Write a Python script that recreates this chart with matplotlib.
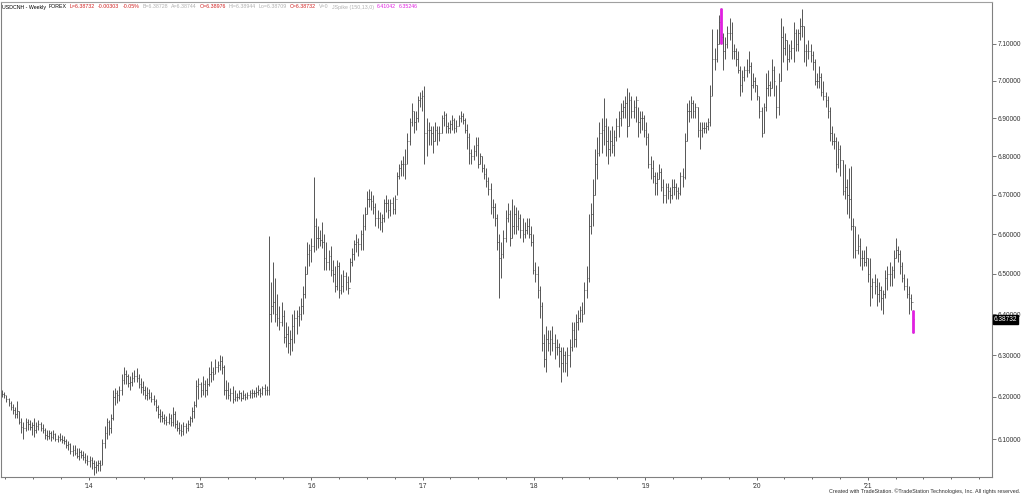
import datetime as dt
import matplotlib
matplotlib.use("Agg")
import matplotlib.pyplot as plt
import matplotlib.dates as mdates
import matplotlib.transforms as mtrans
from matplotlib.ticker import FixedLocator, NullLocator, FuncFormatter

plt.rcParams['font.family'] = ['Liberation Sans', 'DejaVu Sans']

# USDCNH weekly bars, first bar = week ending 2013-03-22, one line per month
first_week = dt.date(2013, 3, 22)

highs = [
    # 2013
    6.215, 6.212,
    6.205, 6.198, 6.190, 6.182,
    6.175, 6.190, 6.165, 6.150, 6.140,
    6.150, 6.148, 6.145, 6.140,
    6.150, 6.140, 6.145, 6.140,
    6.135, 6.125, 6.120, 6.122, 6.118,
    6.120, 6.115, 6.110, 6.115,
    6.110, 6.108, 6.100, 6.095,
    6.090, 6.085, 6.085, 6.080, 6.078,
    6.075, 6.072, 6.068, 6.062,
    # 2014
    6.060, 6.058, 6.050, 6.048, 6.052,
    6.050, 6.100, 6.130, 6.150,
    6.145, 6.160, 6.215, 6.220,
    6.215, 6.225, 6.255, 6.272,
    6.265, 6.255, 6.250, 6.258, 6.265,
    6.268, 6.255, 6.245, 6.238,
    6.225, 6.222, 6.218, 6.212,
    6.205, 6.195, 6.180, 6.170, 6.165,
    6.160, 6.155, 6.162, 6.158,
    6.175, 6.165, 6.145, 6.140, 6.135,
    6.140, 6.138, 6.145, 6.155,
    6.175, 6.190, 6.240, 6.245,
    # 2015
    6.235, 6.250, 6.240, 6.245, 6.270,
    6.285, 6.272, 6.290, 6.285,
    6.300, 6.298, 6.275, 6.240,
    6.235, 6.220, 6.225, 6.215,
    6.210, 6.215, 6.212, 6.215, 6.210,
    6.212, 6.215, 6.218, 6.215,
    6.222, 6.228, 6.220, 6.225, 6.230,
    6.225, 6.595, 6.480, 6.530,
    6.490, 6.450, 6.420, 6.430,
    6.410, 6.380, 6.370, 6.360, 6.400,
    6.410, 6.410, 6.420, 6.440,
    6.470, 6.520, 6.580, 6.575,
    # 2016
    6.590, 6.745, 6.640, 6.620, 6.610,
    6.630, 6.600, 6.580, 6.560,
    6.570, 6.535, 6.520, 6.535,
    6.530, 6.500, 6.510, 6.505, 6.495,
    6.540, 6.565, 6.585, 6.600,
    6.590, 6.610, 6.650, 6.670,
    6.710, 6.715, 6.710, 6.700, 6.680,
    6.660, 6.655, 6.650, 6.690,
    6.700, 6.690, 6.690, 6.695, 6.700,
    6.760, 6.780, 6.790, 6.800,
    6.820, 6.860, 6.900, 6.940,
    6.920, 6.920, 6.960, 6.970, 6.975,
    # 2017
    6.985, 6.900, 6.890, 6.880,
    6.880, 6.890, 6.880, 6.880,
    6.910, 6.920, 6.915, 6.890, 6.895,
    6.910, 6.900, 6.895, 6.910,
    6.920, 6.915, 6.900, 6.885,
    6.860, 6.820, 6.830, 6.850, 6.850,
    6.810, 6.800, 6.780, 6.770,
    6.745, 6.730, 6.690, 6.680,
    6.650, 6.600, 6.580, 6.610, 6.660,
    6.680, 6.660, 6.690, 6.675,
    6.670, 6.660, 6.650, 6.640,
    6.630, 6.640, 6.640, 6.620, 6.600,
    # 2018
    6.530, 6.520, 6.470, 6.430,
    6.350, 6.370, 6.360, 6.360,
    6.370, 6.350, 6.340, 6.330, 6.320,
    6.320, 6.310, 6.320, 6.340,
    6.380, 6.380, 6.400, 6.410,
    6.420, 6.430, 6.480, 6.520, 6.650,
    6.680, 6.740, 6.820, 6.850,
    6.890, 6.900, 6.955, 6.900, 6.880,
    6.870, 6.880, 6.870, 6.900,
    6.920, 6.940, 6.950, 6.960,
    6.980, 6.970, 6.960, 6.950, 6.960,
    6.930, 6.920, 6.920, 6.910,
    # 2019
    6.890, 6.860, 6.800, 6.790,
    6.760, 6.760, 6.780, 6.770,
    6.740, 6.730, 6.730, 6.720, 6.740,
    6.740, 6.730, 6.720, 6.760,
    6.770, 6.860, 6.940, 6.950, 6.960,
    6.950, 6.940, 6.930, 6.890,
    6.890, 6.890, 6.890, 6.900,
    6.990, 7.140, 7.090, 7.140, 7.180,
    7.198, 7.130, 7.120, 7.150,
    7.170, 7.160, 7.100, 7.090,
    7.080, 7.040, 7.030, 7.040, 7.060,
    7.080, 7.050, 7.020, 7.010,
    # 2020
    6.990, 6.960, 6.930, 6.940, 7.020,
    7.030, 7.000, 7.060, 7.040,
    6.990, 7.020, 7.170, 7.150,
    7.130, 7.110, 7.100, 7.110,
    7.160, 7.140, 7.140, 7.170, 7.196,
    7.150, 7.100, 7.110, 7.100,
    7.080, 7.060, 7.020, 7.040, 7.020,
    7.000, 6.970, 6.960, 6.930,
    6.880, 6.860, 6.850, 6.840,
    6.830, 6.790, 6.780, 6.740, 6.770,
    6.775, 6.640, 6.620, 6.600,
    6.590, 6.560, 6.560, 6.570,
    # 2021
    6.540, 6.540, 6.490, 6.500, 6.490,
    6.480, 6.470, 6.460, 6.510,
    6.520, 6.530, 6.520, 6.560,
    6.590, 6.570, 6.560, 6.530, 6.500,
    6.490, 6.470, 6.450, 6.41042,
]

lows = [
    # 2013
    6.200, 6.196,
    6.188, 6.178, 6.168, 6.160,
    6.150, 6.150, 6.135, 6.115, 6.100,
    6.118, 6.122, 6.120, 6.110,
    6.105, 6.115, 6.120, 6.118,
    6.115, 6.100, 6.098, 6.100, 6.095,
    6.100, 6.096, 6.092, 6.095,
    6.090, 6.088, 6.080, 6.075,
    6.065, 6.060, 6.062, 6.055, 6.052,
    6.055, 6.050, 6.045, 6.040,
    # 2014
    6.035, 6.030, 6.017, 6.022, 6.025,
    6.025, 6.040, 6.080, 6.100,
    6.110, 6.115, 6.145, 6.180,
    6.185, 6.190, 6.205, 6.230,
    6.230, 6.222, 6.215, 6.225, 6.235,
    6.235, 6.220, 6.210, 6.205,
    6.195, 6.192, 6.195, 6.188,
    6.180, 6.165, 6.150, 6.140, 6.140,
    6.135, 6.132, 6.135, 6.130,
    6.130, 6.125, 6.118, 6.112, 6.108,
    6.110, 6.115, 6.118, 6.130,
    6.140, 6.150, 6.175, 6.195,
    # 2015
    6.200, 6.205, 6.200, 6.205, 6.225,
    6.235, 6.240, 6.255, 6.260,
    6.265, 6.255, 6.205, 6.195,
    6.195, 6.190, 6.185, 6.190,
    6.190, 6.195, 6.190, 6.195, 6.192,
    6.195, 6.198, 6.196, 6.200,
    6.200, 6.205, 6.200, 6.205, 6.205,
    6.205, 6.205, 6.380, 6.400,
    6.380, 6.370, 6.360, 6.370,
    6.330, 6.320, 6.305, 6.300, 6.310,
    6.330, 6.350, 6.370, 6.385,
    6.400, 6.440, 6.500, 6.520,
    # 2016
    6.530, 6.555, 6.560, 6.565, 6.570,
    6.565, 6.510, 6.510, 6.510,
    6.495, 6.480, 6.455, 6.460,
    6.440, 6.450, 6.455, 6.460, 6.450,
    6.480, 6.520, 6.535, 6.555,
    6.545, 6.560, 6.560, 6.610,
    6.650, 6.670, 6.660, 6.650, 6.620,
    6.615, 6.610, 6.605, 6.630,
    6.655, 6.640, 6.645, 6.650, 6.650,
    6.700, 6.740, 6.750, 6.750,
    6.740, 6.780, 6.830, 6.880,
    6.860, 6.870, 6.890, 6.930, 6.920,
    # 2017
    6.780, 6.800, 6.830, 6.830,
    6.810, 6.840, 6.830, 6.840,
    6.860, 6.880, 6.860, 6.860, 6.860,
    6.870, 6.860, 6.865, 6.880,
    6.890, 6.885, 6.860, 6.820,
    6.780, 6.780, 6.790, 6.800, 6.770,
    6.780, 6.760, 6.740, 6.720,
    6.700, 6.650, 6.640, 6.620,
    6.560, 6.440, 6.490, 6.540, 6.580,
    6.630, 6.570, 6.590, 6.600,
    6.600, 6.610, 6.590, 6.580,
    6.590, 6.600, 6.590, 6.570, 6.500,
    # 2018
    6.480, 6.440, 6.390, 6.310,
    6.270, 6.260, 6.310, 6.300,
    6.310, 6.290, 6.300, 6.270, 6.236,
    6.260, 6.260, 6.250, 6.270,
    6.310, 6.320, 6.320, 6.360,
    6.380, 6.380, 6.400, 6.440, 6.480,
    6.600, 6.620, 6.700, 6.740,
    6.800, 6.810, 6.830, 6.800, 6.780,
    6.800, 6.810, 6.800, 6.840,
    6.850, 6.880, 6.900, 6.900,
    6.850, 6.880, 6.900, 6.900, 6.890,
    6.850, 6.860, 6.870, 6.850,
    # 2019
    6.830, 6.770, 6.740, 6.730,
    6.700, 6.700, 6.740, 6.710,
    6.680, 6.680, 6.690, 6.680, 6.690,
    6.700, 6.690, 6.690, 6.700,
    6.720, 6.740, 6.840, 6.890, 6.900,
    6.900, 6.900, 6.850, 6.820,
    6.850, 6.860, 6.860, 6.870,
    6.880, 6.960, 7.030, 7.050, 7.100,
    7.100, 7.030, 7.060, 7.090,
    7.110, 7.060, 7.060, 7.040,
    7.020, 6.960, 6.970, 7.000, 7.010,
    7.020, 6.950, 6.980, 6.970,
    # 2020
    6.950, 6.900, 6.850, 6.860, 6.920,
    6.960, 6.960, 6.980, 6.960,
    6.900, 6.910, 7.000, 7.050,
    7.070, 7.030, 7.050, 7.060,
    7.050, 7.080, 7.080, 7.110, 7.120,
    7.050, 7.040, 7.060, 7.050,
    7.030, 6.990, 6.980, 6.980, 6.960,
    6.950, 6.930, 6.900, 6.840,
    6.830, 6.820, 6.760, 6.770,
    6.750, 6.700, 6.690, 6.650, 6.640,
    6.610, 6.540, 6.540, 6.550,
    6.520, 6.510, 6.520, 6.520,
    # 2021
    6.480, 6.420, 6.440, 6.450, 6.420,
    6.430, 6.410, 6.400, 6.440,
    6.460, 6.470, 6.470, 6.490,
    6.540, 6.530, 6.500, 6.480, 6.460,
    6.440, 6.400, 6.410, 6.35246,
]

closes = [
    # 2013
    6.207, 6.203,
    6.195, 6.185, 6.175, 6.168,
    6.158, 6.165, 6.140, 6.128, 6.125,
    6.140, 6.135, 6.128, 6.132,
    6.120, 6.130, 6.135, 6.125,
    6.120, 6.110, 6.108, 6.115, 6.105,
    6.112, 6.100, 6.105, 6.100,
    6.098, 6.095, 6.085, 6.088,
    6.072, 6.075, 6.068, 6.060, 6.070,
    6.062, 6.058, 6.052, 6.048,
    # 2014
    6.050, 6.045, 6.035, 6.040, 6.045,
    6.040, 6.090, 6.115, 6.140,
    6.125, 6.150, 6.200, 6.210,
    6.205, 6.215, 6.240, 6.255,
    6.250, 6.232, 6.235, 6.245, 6.250,
    6.245, 6.230, 6.222, 6.215,
    6.205, 6.210, 6.200, 6.195,
    6.190, 6.175, 6.160, 6.155, 6.150,
    6.145, 6.140, 6.150, 6.140,
    6.160, 6.135, 6.125, 6.122, 6.118,
    6.130, 6.125, 6.135, 6.150,
    6.165, 6.180, 6.225, 6.230,
    # 2015
    6.215, 6.230, 6.215, 6.230, 6.255,
    6.260, 6.255, 6.270, 6.275,
    6.285, 6.270, 6.215, 6.215,
    6.205, 6.210, 6.195, 6.200,
    6.200, 6.210, 6.198, 6.205, 6.200,
    6.205, 6.208, 6.210, 6.208,
    6.212, 6.215, 6.210, 6.220, 6.215,
    6.215, 6.400, 6.420, 6.430,
    6.400, 6.390, 6.380, 6.395,
    6.345, 6.350, 6.330, 6.340, 6.370,
    6.390, 6.395, 6.400, 6.420,
    6.450, 6.500, 6.550, 6.560,
    # 2016
    6.570, 6.620, 6.590, 6.590, 6.585,
    6.580, 6.540, 6.530, 6.545,
    6.510, 6.500, 6.470, 6.520,
    6.460, 6.470, 6.495, 6.480, 6.465,
    6.530, 6.550, 6.575, 6.580,
    6.575, 6.600, 6.620, 6.650,
    6.690, 6.690, 6.685, 6.670, 6.640,
    6.640, 6.630, 6.640, 6.680,
    6.680, 6.660, 6.680, 6.665, 6.690,
    6.750, 6.770, 6.780, 6.780,
    6.780, 6.840, 6.890, 6.920,
    6.890, 6.900, 6.950, 6.955, 6.960,
    # 2017
    6.860, 6.870, 6.870, 6.860,
    6.840, 6.870, 6.860, 6.860,
    6.900, 6.910, 6.880, 6.875, 6.885,
    6.895, 6.875, 6.880, 6.900,
    6.905, 6.895, 6.870, 6.850,
    6.810, 6.800, 6.815, 6.830, 6.780,
    6.800, 6.770, 6.755, 6.735,
    6.715, 6.670, 6.670, 6.640,
    6.580, 6.540, 6.550, 6.590, 6.640,
    6.650, 6.590, 6.620, 6.650,
    6.620, 6.640, 6.610, 6.600,
    6.610, 6.620, 6.600, 6.580, 6.510,
    # 2018
    6.500, 6.460, 6.420, 6.330,
    6.290, 6.340, 6.330, 6.340,
    6.330, 6.320, 6.320, 6.310, 6.280,
    6.300, 6.280, 6.300, 6.320,
    6.360, 6.340, 6.380, 6.390,
    6.410, 6.400, 6.460, 6.490, 6.620,
    6.650, 6.700, 6.780, 6.810,
    6.860, 6.870, 6.880, 6.840, 6.820,
    6.840, 6.830, 6.850, 6.880,
    6.900, 6.920, 6.930, 6.940,
    6.880, 6.950, 6.920, 6.930, 6.950,
    6.890, 6.900, 6.900, 6.870,
    # 2019
    6.850, 6.780, 6.770, 6.750,
    6.730, 6.740, 6.760, 6.720,
    6.700, 6.720, 6.710, 6.700, 6.720,
    6.720, 6.710, 6.705, 6.750,
    6.745, 6.840, 6.920, 6.920, 6.940,
    6.920, 6.930, 6.870, 6.870,
    6.875, 6.875, 6.880, 6.890,
    6.960, 7.060, 7.060, 7.100, 7.160,
    7.120, 7.080, 7.100, 7.130,
    7.130, 7.080, 7.080, 7.060,
    7.030, 6.990, 7.010, 7.030, 7.030,
    7.040, 6.990, 7.000, 6.990,
    # 2020
    6.960, 6.920, 6.860, 6.930, 6.980,
    6.990, 6.980, 7.030, 7.000,
    6.930, 7.000, 7.120, 7.090,
    7.110, 7.060, 7.080, 7.090,
    7.130, 7.100, 7.130, 7.150, 7.150,
    7.080, 7.080, 7.080, 7.070,
    7.050, 7.000, 7.000, 7.010, 6.970,
    6.960, 6.950, 6.920, 6.860,
    6.840, 6.840, 6.780, 6.820,
    6.790, 6.710, 6.720, 6.700, 6.690,
    6.620, 6.620, 6.560, 6.570,
    6.540, 6.540, 6.530, 6.540,
    # 2021
    6.500, 6.470, 6.480, 6.470, 6.450,
    6.460, 6.440, 6.450, 6.490,
    6.500, 6.500, 6.510, 6.540,
    6.560, 6.550, 6.520, 6.490, 6.470,
    6.450, 6.440, 6.430, 6.38732,
]

# weeks painted by the JSpike study
spike_weeks = [dt.date(2019, 9, 6), dt.date(2021, 5, 28)]

price_levels = [6.1, 6.2, 6.3, 6.4, 6.5, 6.6, 6.7, 6.8, 6.9, 7.0, 7.1]
year_ticks = [dt.date(y, 1, 1) for y in range(2014, 2022)]
last_price = 6.38732

header = [
    ("USDCNH - Weekly", "#000000"),
    ("FOREX", "#000000"),
    ("L=6.38732", "#d02020"),
    ("-0.00303", "#d02020"),
    ("-0.05%", "#d02020"),
    ("B=6.38728", "#b0b0b0"),
    ("A=6.38744", "#b0b0b0"),
    ("O=6.38976", "#d02020"),
    ("Hi=6.38944", "#b0b0b0"),
    ("Lo=6.38709", "#b0b0b0"),
    ("C=6.38732", "#d02020"),
    ("V=0", "#b0b0b0"),
    ("JSpike (150,13,0)", "#b0b0b0"),
    ("6.41042", "#e020e0"),
    ("6.35246", "#e020e0"),
]

# ---- build the bars
weeks = [first_week + dt.timedelta(weeks=k) for k in range(len(highs))]
xs = mdates.date2num(weeks)
opens = [closes[0]] + closes[:-1]

W, H = 1024, 495
fig = plt.figure(figsize=(W / 100, H / 100), dpi=100)
ax = fig.add_axes([1 / W, 18 / H, 991 / W, 475 / H])

bar_col = "#4a4a4a"
ax.vlines(xs, lows, highs, color=bar_col, lw=0.65)
ax.hlines(opens, xs - 2.6, xs, color=bar_col, lw=0.5)
ax.hlines(closes, xs, xs + 2.6, color=bar_col, lw=0.5)

for d in spike_weeks:
    k = weeks.index(d)
    ax.vlines(xs[k], lows[k], highs[k], color="#e020e0", lw=2.0, zorder=3)
    ax.hlines(closes[k], xs[k], xs[k] + 3.5, color="#e020e0", lw=0.8, zorder=3)

# ---- scales
px_per_day = 111.3 / 365.25
x_left = mdates.date2num(dt.date(2014, 1, 1)) - 88 / px_per_day
ax.set_xlim(x_left, x_left + 991 / px_per_day)
ax.set_yscale("log")
ax.set_ylim(6.0116, 7.2155)

ax.yaxis.tick_right()
ax.yaxis.set_major_locator(FixedLocator(price_levels))
ax.yaxis.set_minor_locator(NullLocator())
ax.yaxis.set_major_formatter(FuncFormatter(lambda v, p: "%.5f" % v))
ax.tick_params(axis="y", which="major", length=3, width=0.6, color="#606060",
               labelsize=4.7, labelcolor="#303030", pad=1)

ax.xaxis.set_major_locator(FixedLocator(mdates.date2num(year_ticks)))
ax.xaxis.set_major_formatter(mdates.DateFormatter("'%y"))
ax.xaxis.set_minor_locator(mdates.MonthLocator(bymonth=[1, 4, 7, 10]))
ax.tick_params(axis="x", which="major", length=2.5, width=0.6, color="#505050",
               labelsize=4.7, labelcolor="#303030", pad=1.5)
ax.tick_params(axis="x", which="minor", length=1.5, width=0.6, color="#505050")

for side in ["left", "right", "bottom", "top"]:
    ax.spines[side].set_color("#808080")
    ax.spines[side].set_linewidth(0.8)
ax.spines["top"].set_color("#a0a0a0")

# last price flag on the price axis
blend = mtrans.blended_transform_factory(ax.transAxes, ax.transData)
ax.text(1.002, last_price, "6.38732", transform=blend, ha="left", va="center",
        fontsize=4.7, color="white", clip_on=False, zorder=5,
        bbox=dict(boxstyle="square,pad=0.12", fc="black", ec="black"))

# ---- header (laid out left to right) and footer
renderer = fig.canvas.get_renderer()
xpos = 2
for txt, col in header:
    t = fig.text(xpos / W, 1 - 7 / H, txt, color=col, fontsize=3.8,
                 ha="left", va="center")
    xpos = t.get_window_extent(renderer).x1 + 3

fig.text(1020 / W, 1 - 491 / H,
         "Created with TradeStation. \u00a9TradeStation Technologies, Inc. All rights reserved.",
         fontsize=3.9, color="#303030", ha="right", va="center")

fig.savefig("out.png", dpi=100)
